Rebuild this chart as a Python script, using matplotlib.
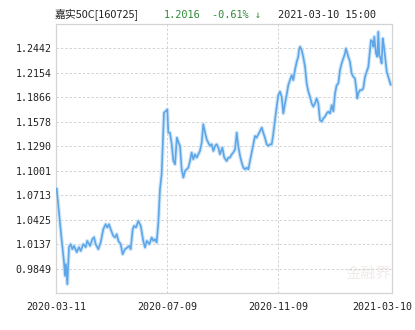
import matplotlib
matplotlib.use("Agg")
import matplotlib.pyplot as plt

# trading-day index since 2020-03-11 and NAV
days = [0.5, 3.8, 5.8, 6.5, 7.2, 8.2, 9.4, 10.6, 11.8, 13.0, 15.0, 16.6, 17.9, 19.7, 21.5,
        22.6, 24.6, 26.3, 27.5, 28.7, 30.6, 32.3, 34.2, 35.9, 37.1, 38.3, 40.0, 41.4, 42.7,
        43.9, 45.1, 46.8, 48.2, 49.9, 51.6, 53.0, 54.0, 55.5, 56.4, 57.9, 59.5, 61.3, 63.1,
        64.4, 65.6, 67.5, 69.2, 70.4, 71.6, 72.8, 74.0, 75.2, 76.4, 77.6, 78.1, 79.5, 80.5,
        81.2, 82.4, 83.7, 84.9, 86.1, 87.4, 88.6, 89.7, 90.9, 92.1, 93.3, 94.5, 95.7, 96.9,
        98.1, 99.3, 100.5, 101.8, 102.9, 104.1, 105.4, 106.5, 107.8, 109.0, 110.1, 111.4,
        112.6, 113.8, 115.0, 116.2, 117.4, 118.6, 120.3, 121.7, 123.4, 124.6, 125.8, 127.1,
        128.2, 129.5, 130.7, 131.8, 133.1, 134.3, 135.5, 136.7, 137.9, 139.1, 140.3, 141.5,
        142.7, 143.9, 145.1, 146.3, 147.5, 148.8, 149.9, 151.1, 152.4, 153.5, 154.8, 156.0,
        157.1, 158.4, 159.6, 160.8, 162.0, 163.2, 164.4, 165.6, 166.8, 168.0, 169.2, 170.5,
        171.6, 172.8, 174.1, 175.2, 175.7, 176.5, 177.7, 178.8, 180.1, 181.3, 182.5, 183.7,
        184.9, 186.1, 187.3, 188.5, 189.7, 190.9, 192.2, 193.3, 194.5, 195.8, 196.9, 198.2,
        199.4, 200.6, 201.8, 203.0, 204.2, 205.4, 206.6, 207.8, 209.0, 209.7, 210.7, 211.4,
        212.6, 213.8, 215.0, 216.2, 217.0, 217.9, 218.6, 219.9, 221.1, 222.2, 223.5, 224.7,
        225.9, 227.1, 227.8, 229.0, 229.5, 230.2, 231.4, 232.4, 233.1, 233.8, 234.8, 235.5,
        236.3, 237.2, 237.9, 239.2, 240.3, 242.0]
nav = [1.0791, 1.0234, 0.9924, 0.9763, 0.9901, 0.9665, 1.0101, 1.0136, 1.0077, 1.0116,
       1.0042, 1.0101, 1.0057, 1.0136, 1.0101, 1.0175, 1.0116, 1.0195, 1.0218, 1.0136,
       1.0077, 1.0156, 1.0313, 1.0371, 1.0333, 1.0371, 1.0292, 1.0234, 1.0215, 1.0254,
       1.0175, 1.0136, 1.0018, 1.0077, 1.0097, 1.0116, 1.0077, 1.0313, 1.0351, 1.0333,
       1.0410, 1.0351, 1.0175, 1.0097, 1.0175, 1.0136, 1.0215, 1.0175, 1.0195, 1.0156,
       1.0391, 1.0783, 1.0960, 1.1450, 1.1686, 1.1704, 1.1724, 1.1450, 1.1450, 1.1313,
       1.1116, 1.1077, 1.1391, 1.1333, 1.1293, 1.1018, 1.0921, 1.0998, 1.1018, 1.1038,
       1.1116, 1.1215, 1.1136, 1.1195, 1.1156, 1.1195, 1.1234, 1.1333, 1.1548, 1.1450,
       1.1371, 1.1333, 1.1293, 1.1313, 1.1234, 1.1293, 1.1313, 1.1274, 1.1195, 1.1274,
       1.1156, 1.1116, 1.1156, 1.1156, 1.1195, 1.1215, 1.1254, 1.1450, 1.1293, 1.1175,
       1.1097, 1.1038, 1.1018, 1.1038, 1.1018, 1.1116, 1.1215, 1.1313, 1.1410, 1.1391,
       1.1430, 1.1469, 1.1509, 1.1450, 1.1391, 1.1313, 1.1293, 1.1313, 1.1313, 1.1430,
       1.1598, 1.1756, 1.1893, 1.1933, 1.1874, 1.1677, 1.1795, 1.1893, 1.2010, 1.2069,
       1.2128, 1.2069, 1.2187, 1.2286, 1.2344, 1.2422, 1.2462, 1.2422, 1.2344, 1.2227,
       1.2030, 1.1933, 1.1874, 1.1795, 1.1756, 1.1795, 1.1854, 1.1795, 1.1598, 1.1580,
       1.1618, 1.1638, 1.1677, 1.1697, 1.1677, 1.1775, 1.1701, 1.1913, 1.2010, 1.2030,
       1.2187, 1.2266, 1.2324, 1.2383, 1.2442, 1.2383, 1.2344, 1.2286, 1.2148, 1.2109,
       1.2089, 1.1991, 1.1854, 1.1913, 1.1951, 1.1951, 1.1971, 1.2109, 1.2168, 1.2227,
       1.2422, 1.2540, 1.2521, 1.2462, 1.2580, 1.2383, 1.2344, 1.2638, 1.2363, 1.2324,
       1.2266, 1.2560, 1.2462, 1.2363, 1.2168, 1.2109, 1.2016]

y_ticks = [0.9849, 1.0137, 1.0425, 1.0713, 1.1001, 1.1290, 1.1578, 1.1866, 1.2154, 1.2442]
x_labels = ["2020-03-11", "2020-07-09", "2020-11-09", "2021-03-10"]
x_label_pos = [0, 80.5, 160.5, 243]

fig = plt.figure(figsize=(4.15, 3.3), dpi=100)
ax = fig.add_axes([56 / 415, 37 / 330, 336 / 415, 269 / 330])

ax.plot(days, nav, color="#cde5f8", lw=2.8, solid_capstyle="round", zorder=2)
ax.plot(days, nav, color="#5ea6e8", lw=1.2, zorder=3)

ax.set_xlim(0, 243)
ax.set_ylim(0.9561, 1.2730)

ax.set_yticks(y_ticks)
ax.set_yticklabels([f"{v:.4f}" for v in y_ticks], family="DejaVu Sans Mono", fontsize=7.2)
for v in y_ticks:
    ax.axhline(v, color="#d2d2d2", lw=0.7, ls=(0, (2.5, 2)), zorder=1)
for x in x_label_pos[1:3]:
    ax.axvline(x, color="#d2d2d2", lw=0.7, ls=(0, (2.5, 2)), zorder=1)

ax.set_xticks([])
ax.tick_params(axis="y", length=0, pad=3, colors="#222222")
for s in ax.spines.values():
    s.set_color("#d4d4d4")
    s.set_linewidth(0.9)

# x labels (last one pulled inside the image)
for lab, pos in zip(x_labels[:3], x_label_pos[:3]):
    ax.text(pos, -0.035, lab, transform=ax.get_xaxis_transform(), ha="center", va="top",
            family="DejaVu Sans Mono", fontsize=7.2, color="#222222")
ax.text(1.0 + 20 / 336, -0.035, x_labels[3], transform=ax.transAxes, ha="right", va="top",
        family="DejaVu Sans Mono", fontsize=7.2, color="#222222")

# header line
fam = ["Noto Sans CJK SC", "DejaVu Sans Mono"]
fig.text(55 / 415, 1 - 15 / 330, "嘉实50C[160725]", family=fam, fontsize=7.8, va="center", color="#222222")
fig.text(164 / 415, 1 - 15 / 330, "1.2016", family="DejaVu Sans Mono", fontsize=7.4, va="center", color="#2e8b3a")
fig.text(212 / 415, 1 - 15 / 330, "-0.61% ↓", family="DejaVu Sans Mono", fontsize=7.4, va="center", color="#2e8b3a")
fig.text(278 / 415, 1 - 15 / 330, "2021-03-10 15:00", family="DejaVu Sans Mono", fontsize=7.4, va="center", color="#222222")

# faint watermark
ax.text(0.93, 0.04, "金融界", transform=ax.transAxes, ha="center", va="bottom",
        family="Noto Sans CJK SC", fontsize=11, color="#f3eaea", zorder=0)

fig.savefig("out.png", dpi=100)
